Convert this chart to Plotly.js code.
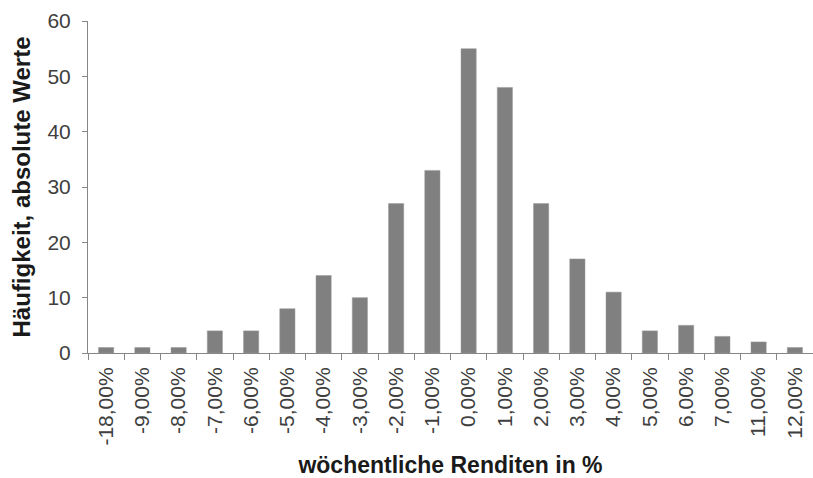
<!DOCTYPE html>
<html>
<head>
<meta charset="utf-8">
<script src="https://cdn.plot.ly/plotly-3.0.1.min.js"></script>
<style>
  html, body { margin: 0; padding: 0; background: #fff; }
  #chart { width: 813px; height: 478px; }
</style>
</head>
<body>
<div id="chart"></div>
<script>
// weekly returns histogram
const categories = ['-18,00%', '-9,00%', '-8,00%', '-7,00%', '-6,00%', '-5,00%', '-4,00%', '-3,00%', '-2,00%', '-1,00%',
  '0,00%', '1,00%', '2,00%', '3,00%', '4,00%', '5,00%', '6,00%', '7,00%', '11,00%', '12,00%'];
const counts = [1, 1, 1, 4, 4, 8, 14, 10, 27, 33, 55, 48, 27, 17, 11, 4, 5, 3, 2, 1];
const yTicks = [0, 10, 20, 30, 40, 50, 60];

const axisColor = '#868686';
const textColor = '#404040';
const fontFamily = '"Liberation Sans", Arial, sans-serif';

const data = [{
  x: categories,
  y: counts,
  type: 'bar',
  marker: { color: '#808080', line: { color: '#9a9a9a', width: 0.5 } },
  hoverinfo: 'x+y'
}];

const layout = {
  width: 813,
  height: 478,
  margin: { l: 88, r: 0, t: 21, b: 125 },
  paper_bgcolor: '#ffffff',
  plot_bgcolor: '#ffffff',
  bargap: 0.58,
  showlegend: false,
  font: { family: fontFamily, color: textColor, size: 21 },
  xaxis: {
    type: 'category',
    tickangle: -90,
    showline: true,
    linecolor: axisColor,
    linewidth: 1,
    ticks: 'outside',
    tickson: 'boundaries',
    ticklen: 6,
    tickcolor: axisColor,
    showgrid: false,
    zeroline: false,
    ticklabelstandoff: 5,
    tickfont: { size: 21, color: textColor },
    title: {
      text: 'wöchentliche Renditen in %',
      font: { size: 23, color: '#1a1a1a', family: fontFamily, weight: 'bold' },
      standoff: 12
    }
  },
  yaxis: {
    range: [0, 60],
    tickvals: yTicks,
    showline: true,
    linecolor: axisColor,
    linewidth: 1,
    ticks: 'outside',
    ticklen: 5,
    tickcolor: axisColor,
    showgrid: false,
    zeroline: false,
    ticklabelstandoff: 7,
    tickfont: { size: 21, color: textColor },
    title: {
      text: 'Häufigkeit, absolute Werte',
      font: { size: 24, color: '#1a1a1a', family: fontFamily, weight: 'bold' },
      standoff: 10
    }
  }
};

Plotly.newPlot('chart', data, layout, { displayModeBar: false, staticPlot: true });
</script>
</body>
</html>
